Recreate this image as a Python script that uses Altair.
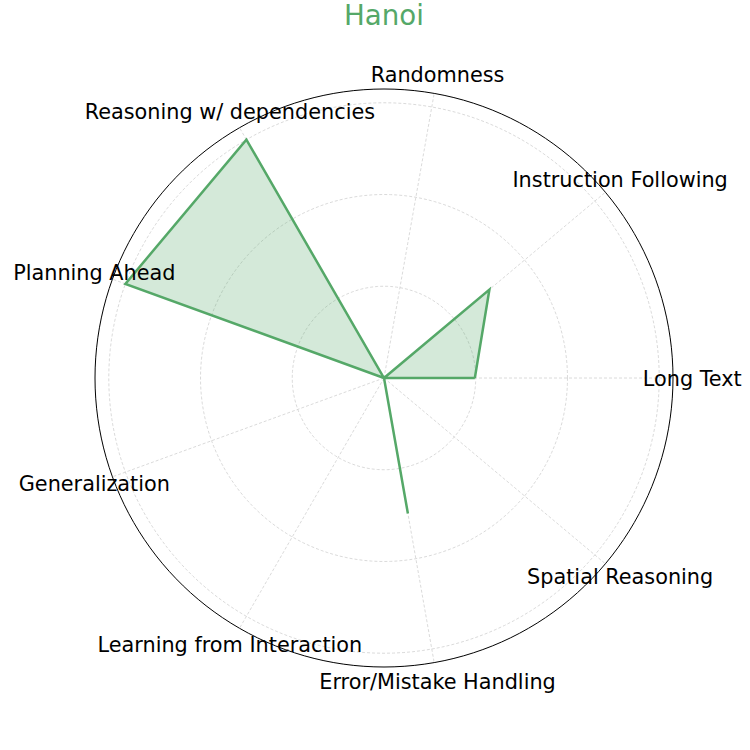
import altair as alt
import pandas as pd

categories = [
    "Long Text",
    "Instruction Following",
    "Randomness",
    "Reasoning w/ dependencies",
    "Planning Ahead",
    "Generalization",
    "Learning from Interaction",
    "Error/Mistake Handling",
    "Spatial Reasoning",
]
values = [0.33, 0.5, 0.0, 1.0, 1.0, 0.0, 0.0, 0.5, 0.0]
grid_levels = [1 / 3, 2 / 3, 1.0]
title_text = "Hanoi"

R_MAX = 1.05
LABEL_R = 1.12
GREEN = "#55a868"
FONT = "DejaVu Sans"
W = 578
H = 578

n = len(categories)
angles = [i * 360.0 / n for i in range(n)]

# polygon (closed)
poly_df = pd.DataFrame({
    "cat": categories + [categories[0]],
    "value": values + [values[0]],
    "angle": angles + [360.0],
    "order": list(range(n + 1)),
})

# spokes and labels
axis_df = pd.DataFrame({"cat": categories, "angle": angles})

# circles (grid levels + outer spine)
circle_angles = list(range(0, 361, 2))
circ_rows = []
for lvl in grid_levels:
    for a in circle_angles:
        circ_rows.append({"level": lvl, "angle": a})
grid_df = pd.DataFrame(circ_rows)
outer_df = pd.DataFrame({"level": [R_MAX] * len(circle_angles), "angle": circle_angles})

xs = alt.Scale(domain=[-R_MAX, R_MAX], nice=False, zero=False)
ys = alt.Scale(domain=[-R_MAX, R_MAX], nice=False, zero=False)


def X(field):
    return alt.X(field, type="quantitative", scale=xs, axis=None)


def Y(field):
    return alt.Y(field, type="quantitative", scale=ys, axis=None)


grid = alt.Chart(grid_df).transform_calculate(
    x="datum.level*cos(datum.angle*PI/180)",
    y="datum.level*sin(datum.angle*PI/180)",
).mark_line(color="#d0d0d0", strokeWidth=0.8, strokeDash=[3, 2]).encode(
    x=X("x"), y=Y("y"), detail="level:N", order="angle:Q"
)

spokes = alt.Chart(axis_df).transform_calculate(
    x0="0", y0="0",
    x1=f"{R_MAX}*cos(datum.angle*PI/180)",
    y1=f"{R_MAX}*sin(datum.angle*PI/180)",
).mark_rule(color="#d0d0d0", strokeWidth=0.8, strokeDash=[3, 2]).encode(
    x=X("x0"), y=Y("y0"), x2="x1:Q", y2="y1:Q"
)

outer = alt.Chart(outer_df).transform_calculate(
    x="datum.level*cos(datum.angle*PI/180)",
    y="datum.level*sin(datum.angle*PI/180)",
).mark_line(color="black", strokeWidth=1).encode(
    x=X("x"), y=Y("y"), order="angle:Q"
)

fill = alt.Chart(poly_df).transform_calculate(
    x="datum.value*cos(datum.angle*PI/180)",
    y="datum.value*sin(datum.angle*PI/180)",
).mark_line(fill=GREEN, fillOpacity=0.25, strokeWidth=0).encode(
    x=X("x"), y=Y("y"), order="order:Q"
)

line = alt.Chart(poly_df).transform_calculate(
    x="datum.value*cos(datum.angle*PI/180)",
    y="datum.value*sin(datum.angle*PI/180)",
).mark_line(color=GREEN, strokeWidth=2.5, strokeJoin="miter").encode(
    x=X("x"), y=Y("y"), order="order:Q"
)

labels = alt.Chart(axis_df).transform_calculate(
    x=f"{LABEL_R}*cos(datum.angle*PI/180)",
    y=f"{LABEL_R}*sin(datum.angle*PI/180)",
).mark_text(font=FONT, fontSize=20.8, color="black", align="center",
            baseline="middle", dy=1.5).encode(
    x=X("x"), y=Y("y"), text="cat:N"
)

title = alt.Chart(pd.DataFrame({"t": [title_text]})).mark_text(
    font=FONT, fontSize=27.7, color=GREEN, align="center", baseline="alphabetic"
).encode(x=alt.value(W / 2), y=alt.value(-64), text="t:N")

chart = alt.layer(grid, spokes, fill, line, outer, labels, title).properties(
    width=W,
    height=H,
    padding={"left": 95, "top": 89, "right": 77, "bottom": 83},
    autosize=alt.AutoSizeParams(type="none"),
).configure(background="white").configure_view(strokeWidth=0, stroke=None)

chart.save("out.html", embed_options={"renderer": "svg", "actions": False})
